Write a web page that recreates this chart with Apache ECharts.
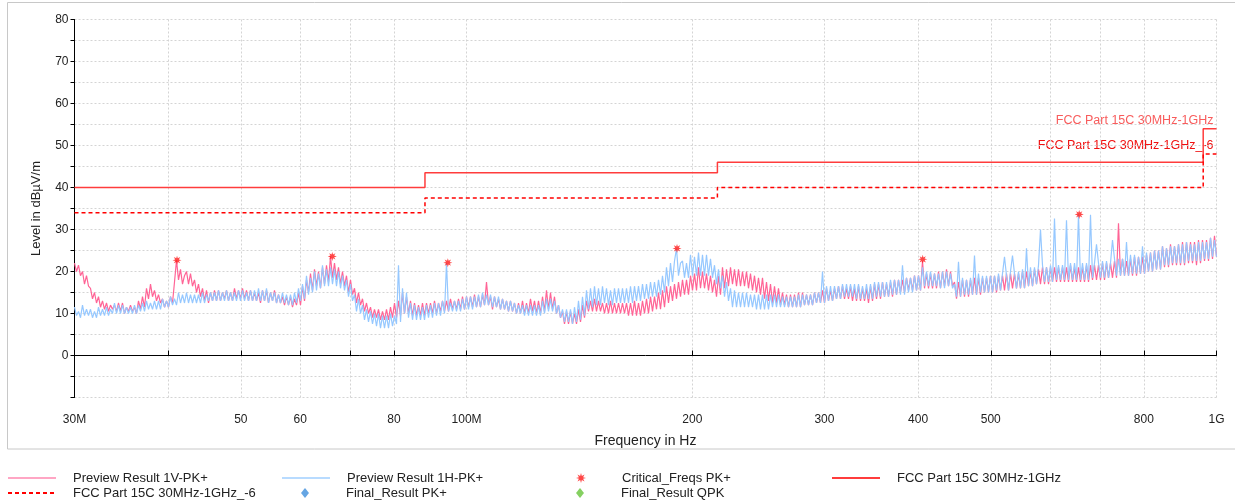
<!DOCTYPE html>
<html><head><meta charset="utf-8">
<script src="https://cdn.jsdelivr.net/npm/echarts@6/dist/echarts.min.js"></script>
<style>html,body{margin:0;padding:0;background:#fff}#c{width:1235px;height:503px}</style>
</head><body><div id="c"></div>
<script>
// ---- sweep (receiver steps, log-spaced from start to stop) ----
const sweepStartMHz = 30;
const sweepStopMHz = 1000;

// ---- Preview Result 1V-PK+ (dBuV/m), one value per sweep step ----
const level1V = [
22,20,21.5,19, 20,17,19,16.5, 16,13.5,15,12.5, 14,11.5,13,11, 12.5,10.5,12,11,
12,10.5,12.5,10.5, 12.5,10,11.5,10.5, 12,10.5,11.5,10, 13,11,14,11.5, 16,13.5,17,14,
15.5,13,14.5,12.5, 13.5,11.5,13,11.5, 14,12.5,17.5,22.7, 18,20.5,17,19, 20,17,19.5,16.5,
18,15,17,14, 16,13,15.5,12.5, 15,13,15.5,13, 15.5,13,15,13.5, 15.5,13,15,13,
16,13.5,15.5,13.5, 16,13.5,15.5,13, 15.5,13,15,13, 15,12.5,15.5,13, 15.5,12.5,15,13,
15.5,12.5,14.5,12.5, 14,12,14,12, 14,11.5,13.5,12, 15,12,16.5,13, 18,15,19.5,15.5,
20.5,16.5,20,16, 21,17,21.5,17.5, 23.6,18.5,22,18, 21,17,20,16.5, 19,15,18,14.5,
16,12.5,15,12, 13.5,10.5,12.5,10, 11.5,9,11,9, 11,8.5,10.5,8.5, 11,8.5,11.5,9,
12.5,9,13,9.5, 15,10,14,10, 13,9.5,12.5,9.5, 12,9.5,12.5,9.5, 12.5,10,12.5,10,
13,10,12.5,10.5, 13,10.5,13,10.5, 13.5,11,13,11, 13.5,11,14,11, 14,11.5,14,11.5,
14.5,11.5,14,11.5, 14.5,12,17.5,12, 14,11,14,11.5, 13.5,11,13.5,11, 13,10.5,13,10.5,
12.5,10,12.5,10, 13,10,12.5,10, 13.5,10.5,13,10, 13,10,14,10.5, 15.5,11,15,11,
14,10,12,9, 10.5,7.5,10.5,7.5, 10.5,7.5,10,7.5, 11,8,12,9, 13,10.5,13,10.5,
13.5,10.5,13,10.5, 12.5,10,12.5,10, 13,10,12.5,10, 12.5,10,12.5,10, 12.5,9.5,12.5,9.5,
13,9.5,12.5,9.5, 13,10,13.5,10, 14,10.5,14,11, 15,11,15.5,11.5, 16.5,12.5,16.5,13,
17,13.5,17.5,14, 18,14.5,18,14.5, 19,15.5,19.5,15.5, 21,16,20,16, 19.5,15.5,19,15,
18,14,19,14.5, 21,16,20.5,16.5, 21,17,20.5,16.5, 20.5,16.5,20,16.5, 20,16,19.5,15.5,
19,15,18.5,14.5, 18.5,13.5,17.5,13, 17,12.5,16.5,12.5, 16,12,15,12, 14.5,11.5,14.5,11.5,
14.5,11.5,15,11.5, 15,12,14.5,12, 14.5,12,15,12.5, 15,12.5,15.5,12.5, 16,13,15.5,13,
16,13.5,16.5,13.5, 16.5,13.5,16,13.5, 16.5,13,16,13, 16.5,13,16,13, 16,12.5,16.5,13,
17,13.5,17,13.5, 17.5,14,17,14, 17.5,14,18,14.5, 18,15,18,15, 18.5,15.5,18.5,15.5,
19,15.5,19,15.5, 22.5,16,19.5,16, 19.5,16,19.5,16, 20,16,20,16.5, 20.5,16.5,20,16.5,
17.5,13.5,17.5,14, 18,14,18,14, 18,14.5,18.5,14.5, 18.5,14.5,18.5,15, 18.5,15,19,15,
19,15,19,15.5, 19,15.5,19.5,15.5, 19.5,16,19.5,16, 19.5,16,20,16, 20,16.5,20,16.5,
20.5,17,20.5,17, 21,17,21,17, 21,17.5,21,17.5, 21,17.5,21,17.5, 21,17.5,21.5,17.5,
21,17.5,21,17.5, 21,17.5,21.5,17.5, 21.5,18,21.5,18, 21.5,18,22,18, 22,18.5,22,18.5,
22.5,18.5,31.5,19, 23,19,22.5,19, 23,19,23.5,19, 23.5,19.5,23.5,19.5, 24,20,24.5,20,
25,20.5,25,20.5, 26,21,25.5,21, 26.5,21.5,26,21.5, 26.5,21.5,27,21.5, 27,22,27,22,
27,21.5,27.5,22, 27.5,22.5,27.5,22.5, 28,23,28.5,23.5
];

// ---- Preview Result 1H-PK+ (dBuV/m) ----
const level1H = [
11.5,9.5,10.5,9, 12,9.5,11,9.5, 11,9,10.5,9, 11.5,9.5,11,9.5, 11.5,9.5,11,10,
12.5,10,12,10, 12,10,11.5,10, 11.5,10,12,10, 12,10.5,12.5,10.5, 13,11,12.5,11,
13,11,13,11, 13.5,11.5,13,11.5, 14,12,13.5,12, 15,12.5,14.5,12.5, 15,12.5,14.5,12.5,
14.5,12.5,14.5,12.5, 15,12.5,14.5,13, 15,13,15,13, 15.5,13,15,13, 15.5,13,15,13,
15,13,15.5,13, 15.5,13,15,13, 15.5,13,15.5,13, 16,13,15.5,13, 16,12.5,15,13,
15,12.5,14.5,12.5, 15,12.5,14.5,12, 14.5,12,15,12.5, 16,13,17,13.5, 19,14.5,18.5,15,
20,15.5,19.5,16, 21.5,16.5,20.5,16.5, 21,17,20.5,16.5, 20,16,19,15.5, 18,14,17,13,
14.5,10.5,13.5,10, 12,8.5,11,8, 10.5,7.5,10,7, 10,6.5,9.5,6.5, 9.5,6.5,10,7,
9.5,7.5,21.5,8, 16,10,15,9, 12.5,8.5,12,8.5, 11.5,8.5,11.5,8.5, 12,9,12,9,
12.5,9.5,12.5,9.5, 13,10,22,10.5, 12.5,10.5,13,10.5, 13,10.5,13.5,11, 14,11,14,11,
14,11.5,14.5,11.5, 15,12,14.5,12, 14.5,11.5,14,11.5, 14,11,13.5,11, 13,10.5,13,10.5,
12.5,10,12,10, 12,9.5,12,9.5, 12,9.5,12,9.5, 12,9.5,13,10, 13.5,10.5,13.5,10.5,
13,10,12,9, 11,8,11,8, 11,7.5,11.5,8, 13,8.5,14,9.5, 15.5,11,16,11.5,
16.5,12,16,12, 16.5,12.5,16,12, 15.5,12,16,12.5, 16,12.5,16,12.5, 16,12.5,16.5,12.5,
16.5,13,16.5,13, 17,13.5,17,13.5, 17.5,14,17.5,14, 18,14.5,19,15, 21,16.5,22,17.5,
22.5,25.5,19,22, 22.5,18.5,22,18.5, 24,19,23.5,19, 24.5,19,24,19, 24,19,23,18.5,
21.5,17,20.5,16, 19,14,17.5,13, 16,11.5,15.5,11.5, 15,11.5,15,11.5, 15,11.5,14.5,11.5,
14.5,11,14.5,11, 14.5,11,14.5,11, 14.5,11.5,14.5,11.5, 14.5,11.5,14,11.5, 14,11.5,14,11.5,
14,11.5,14.5,11.5, 14.5,12,14.5,12, 14.5,12,15,12.5, 15,12.5,20,12.5, 16.5,13,16.5,13,
16.5,13.5,16.5,13.5, 17,14,17,14, 17,14,17,13.5, 17,13.5,16.5,13.5, 17,13.5,17,13.5,
17.5,14,17.5,14, 17.5,14,17.5,14, 18,14.5,18,14.5, 18,14.5,21.5,14.5, 18.5,15,18.5,15,
19,15.5,19,15.5, 21,16.5,20,16.5, 20,16.5,19.5,16.5, 19.5,16,20,16, 20,16.5,19.5,16,
17,14,22.3,14, 18.5,14.5,18,14.5, 18.5,14.5,23.8,14.5, 19.5,15,19,15, 19,15,19,15,
19,15.5,19.5,15.5, 19.5,23.5,19,15.5, 20,23.8,19.5,16, 20,16,20.5,16, 25.5,16.5,21,16.5,
21,17,21.5,30, 21.5,17.5,21,17.5, 21.5,17.5,32.6,18, 21.5,18,21.5,18, 32.2,18,22,18,
22,18,33.6,18, 22,18,22,18, 33.5,18.5,22,26.5, 22,18.5,22.5,18.5, 22.5,18.5,22,27.5,
23,19,23,19, 23,19,27,19, 24,19.5,24,19.5, 23.5,19.5,26,19.5, 24.5,20,24.5,20,
25,20.5,25,20.5, 26,21.5,25.5,21.5, 26,22,26,22, 26.5,22,26.5,22, 27,22.5,26.5,22.5,
26.5,22.5,27,22.5, 27,23,27,23, 28,23.5,27.5,23.5
];

// ---- Critical_Freqs PK+ ----
const criticalFreqMHz = [41.1, 66.2, 94.4, 190.8, 405.7, 656];
const criticalLevel   = [22.7, 23.6, 22.1, 25.5, 22.9, 33.6];

// ---- FCC Part 15C limit (step corners) ----
const limitFreqMHz  = [30, 88, 216, 960, 1000];
const limitLevel    = [40, 43.5, 46, 54, 54];
const limitLevel6   = [34, 37.5, 40, 48, 48];

// ---- axis ticks ----
const xTickMHz  = [30, 40, 50, 60, 70, 80, 100, 200, 300, 400, 500, 600, 700, 800, 1000];
const xLabelMHz = [30, 50, 60, 80, 100, 200, 300, 400, 500, 800, 1000];
const xLabelText = {30: '30M', 100: '100M', 1000: '1G'};
const yLabels = [0, 10, 20, 30, 40, 50, 60, 70, 80];

// ---- names ----
const nameV = 'Preview Result 1V-PK+';
const nameH = 'Preview Result 1H-PK+';
const nameCrit = 'Critical_Freqs PK+';
const nameLim = 'FCC Part 15C 30MHz-1GHz';
const nameLim6 = 'FCC Part 15C 30MHz-1GHz_-6';
const namePK = 'Final_Result PK+';
const nameQPK = 'Final_Result QPK';

// ---------------------------------------------------------------
const lg = Math.log10;
function sweepFreq(n) {
  const out = [];
  for (let k = 0; k < n; k++) out.push(sweepStartMHz * Math.pow(sweepStopMHz / sweepStartMHz, k / (n - 1)));
  return out;
}
const fV = sweepFreq(level1V.length);
const fH = sweepFreq(level1H.length);
const traceV = level1V.map((v, k) => [lg(fV[k]), v]);
const traceH = level1H.map((v, k) => [lg(fH[k]), v]);
const limData = limitFreqMHz.map((f, i) => [lg(f), limitLevel[i]]);
const lim6Data = limitFreqMHz.map((f, i) => [lg(f), limitLevel6[i]]);
const critData = criticalFreqMHz.map((f, i) => [lg(f), criticalLevel[i]]);

function makeStar() {
  let s = 'path://';
  for (let i = 0; i < 16; i++) {
    const r = i % 2 ? 4.5 : 10, a = Math.PI * i / 8 - Math.PI / 2;
    s += (i ? 'L' : 'M') + (10 + r * Math.cos(a)).toFixed(2) + ',' + (10 + r * Math.sin(a)).toFixed(2);
  }
  return s + 'Z';
}
const starIcon = makeStar();
const diamondIcon = 'path://M4,0L8,5L4,10L0,5Z';

const FONT = '"Liberation Sans", Arial, sans-serif';
const chart = echarts.init(document.getElementById('c'));
function legendAt(left, top, item) {
  return {
    orient: 'vertical', left: left, top: top, padding: 0, itemWidth: 48, itemHeight: 10, itemGap: 0,
    textStyle: {fontFamily: FONT, fontSize: 13, color: '#222', lineHeight: 14, padding: [0, 0, 0, 12]},
    selectedMode: false, data: [item]
  };
}
const hideSym = {opacity: 0};
chart.setOption({
  animation: false,
  backgroundColor: '#fff',
  grid: {left: 74.5, right: 18.5, top: 19.5, bottom: 105.5},
  xAxis: {
    type: 'value', min: lg(30), max: 3,
    name: 'Frequency in Hz', nameLocation: 'middle', nameGap: 37,
    nameTextStyle: {fontFamily: FONT, fontSize: 14, color: '#222'},
    axisLine: {lineStyle: {color: '#000', width: 1}},
    axisTick: {inside: true, length: 5, lineStyle: {color: '#000'}, customValues: xTickMHz.map(lg)},
    axisLabel: {
      fontFamily: FONT, fontSize: 12, color: '#222', margin: 16,
      customValues: xLabelMHz.map(lg),
      formatter: v => { const f = Math.round(Math.pow(10, v)); return xLabelText[f] || String(f); }
    },
    splitLine: {show: true, lineStyle: {color: '#d4d4d4', type: [2, 2], width: 1}}
  },
  yAxis: {
    type: 'value', min: -10, max: 80, interval: 5,
    name: 'Level in dBµV/m', nameLocation: 'middle', nameGap: 32, nameRotate: 90,
    nameTextStyle: {fontFamily: FONT, fontSize: 13, color: '#222'},
    axisLine: {show: true, lineStyle: {color: '#000', width: 1}},
    axisTick: {show: true, length: 4, lineStyle: {color: '#000'}},
    axisLabel: {
      fontFamily: FONT, fontSize: 12, color: '#222', margin: 6,
      formatter: v => yLabels.indexOf(v) >= 0 ? String(v) : ''
    },
    splitLine: {show: true, lineStyle: {color: '#d4d4d4', type: [2, 2], width: 1}}
  },
  legend: [
    legendAt(7, 471, {name: nameV, lineStyle: {color: '#ffa6c4', width: 2}, itemStyle: hideSym}),
    legendAt(7, 486, {name: nameLim6, itemStyle: hideSym}),
    legendAt(281, 471, {name: nameH, lineStyle: {color: '#b8dbff', width: 2}, itemStyle: hideSym}),
    legendAt(301, 486, {name: namePK, icon: diamondIcon}),
    legendAt(576, 471, {name: nameCrit, icon: starIcon}),
    legendAt(576, 486, {name: nameQPK, icon: diamondIcon}),
    legendAt(831, 471, {name: nameLim, itemStyle: hideSym})
  ],
  graphic: [
    {type: 'rect', shape: {x: 7.5, y: 2.5, width: 1240, height: 446.5}, style: {fill: 'none', stroke: '#c8c8c8', lineWidth: 1}, silent: true, z: -1},
    {type: 'text', right: 1235 - 1213.5, top: 114, style: {text: nameLim, fill: '#f85c5c', font: '12.5px ' + FONT, align: 'right'}},
    {type: 'text', right: 1235 - 1213.5, top: 139, style: {text: nameLim6, fill: '#f01010', font: '12.5px ' + FONT, align: 'right'}}
  ],
  series: [
    {name: nameV, type: 'line', data: traceV, symbol: 'none', lineStyle: {color: '#ff6496', width: 1.2}, itemStyle: {color: '#ff6496'}, z: 2},
    {name: nameH, type: 'line', data: traceH, symbol: 'none', lineStyle: {color: '#96c8ff', width: 1.2}, itemStyle: {color: '#96c8ff'}, z: 3},
    {name: nameLim, type: 'line', data: limData, step: 'end', symbol: 'none', lineStyle: {color: '#ff3c3c', width: 1.5}, itemStyle: {color: '#ff3c3c'}, z: 4},
    {name: nameLim6, type: 'line', data: lim6Data, step: 'end', symbol: 'none', lineStyle: {color: '#ff0000', width: 1.5, type: [4, 3]}, itemStyle: {color: '#ff0000'}, z: 4},
    {name: nameCrit, type: 'scatter', data: critData, symbol: starIcon, symbolSize: 9, itemStyle: {color: '#ff1a1a'}, z: 5},
    {name: namePK, type: 'scatter', data: [], symbol: diamondIcon, symbolSize: 8, itemStyle: {color: '#3f8fdc'}},
    {name: nameQPK, type: 'scatter', data: [], symbol: diamondIcon, symbolSize: 8, itemStyle: {color: '#66c43a'}}
  ]
});
</script>
</body></html>
